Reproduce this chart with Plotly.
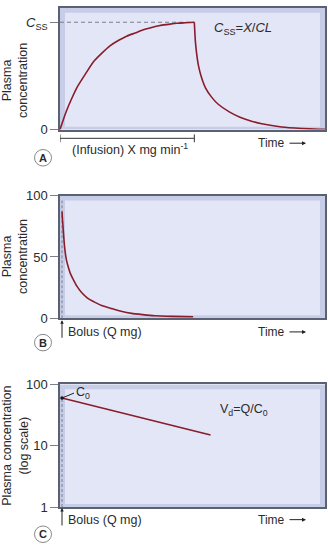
import plotly.graph_objects as go

W, H = 328, 551

# ---- data -------------------------------------------------------------
# Panel A: constant-rate infusion, fraction of steady state
infusion_t = [0.0, 0.12, 0.25, 0.42, 0.62, 0.9, 1.24, 1.55, 1.86, 2.17, 2.48,
              2.8, 3.10, 3.4, 3.72, 4.03, 4.34, 4.67, 5.0]
infusion_c = [0.0, 0.09, 0.18, 0.28, 0.387, 0.50, 0.63, 0.71, 0.78, 0.83, 0.87,
              0.90, 0.93, 0.95, 0.97, 0.98, 0.99, 0.995, 1.0]
washout_t = [5.0, 5.02, 5.04, 5.09, 5.15, 5.25, 5.42, 5.65, 5.89, 6.3, 6.70, 7.1,
             7.51, 8.25, 9.0, 9.61, 9.86]
washout_c = [1.0, 0.90, 0.82, 0.70, 0.60, 0.50, 0.387, 0.30, 0.236, 0.165, 0.115,
             0.08, 0.054, 0.024, 0.010, 0.003, 0.002]
infusion_end = 5.0
css_level = 1.0

# Panel B: single IV bolus, linear scale
bolus_t = [0.0, 0.02, 0.05, 0.08, 0.11, 0.16, 0.23, 0.32, 0.42, 0.56, 0.73, 0.95,
           1.23, 1.5, 1.85, 2.2, 2.59, 3.0, 3.46, 4.1, 4.88]
bolus_c = [87, 80, 71, 62, 55.6, 48, 42, 36, 31.7, 26, 21, 16.5,
           13, 10.2, 7.9, 5.7, 4.0, 3.0, 2.1, 1.6, 1.2]

# Panel C: single IV bolus, log scale
log_t = [0.0, 5.53]
log_c = [60, 15]

# tick labels
ticks_a = [0, css_level]
ticktext_a = ["0", "<i>C</i><sub>SS</sub>"]
ticks_b = [0, 50, 100]
ticks_c = [1, 10, 100]

# ---- style ------------------------------------------------------------
FONT = "Liberation Sans, Arial, sans-serif"
TXT = "#2b2b2b"
CURVE = "#8a1c2c"
BAND = "#c8cde7"
INNER = "#e3e6f6"
FRAME = "#5a6172"
GREY = "#7a7f88"

def py(px):  # pixel row -> paper y
    return 1 - px / H

def pxx(px):  # pixel column -> paper x
    return px / W

# panel boxes (pixel rows): top, bottom
panels = {"A": (1, 126), "B": (194, 320), "C": (388, 514)}
x_dom = [pxx(60), pxx(325)]

fig = go.Figure()

# Panel A traces
fig.add_trace(go.Scatter(x=[0, infusion_end], y=[css_level, css_level], mode="lines",
                         line=dict(color=GREY, width=1, dash="4px,3px"),
                         xaxis="x", yaxis="y", hoverinfo="skip"))
fig.add_trace(go.Scatter(x=infusion_t, y=infusion_c, mode="lines",
                         line=dict(color=CURVE, width=1.6, shape="spline", smoothing=0.5),
                         xaxis="x", yaxis="y"))
fig.add_trace(go.Scatter(x=washout_t, y=washout_c, mode="lines",
                         line=dict(color=CURVE, width=1.6, shape="spline", smoothing=0.5),
                         xaxis="x", yaxis="y"))

# Panel B traces
fig.add_trace(go.Scatter(x=[0, 0], y=[0, 96], mode="lines",
                         line=dict(color=GREY, width=1, dash="3px,2px"),
                         xaxis="x2", yaxis="y2", hoverinfo="skip"))
fig.add_trace(go.Scatter(x=bolus_t, y=bolus_c, mode="lines",
                         line=dict(color=CURVE, width=1.6, shape="spline", smoothing=0.5),
                         xaxis="x2", yaxis="y2"))

# Panel C traces
fig.add_trace(go.Scatter(x=[0, 0], y=[1, log_c[0]], mode="lines",
                         line=dict(color=GREY, width=1, dash="3px,2px"),
                         xaxis="x3", yaxis="y3", hoverinfo="skip"))
fig.add_trace(go.Scatter(x=log_t, y=log_c, mode="lines",
                         line=dict(color=CURVE, width=1.6),
                         xaxis="x3", yaxis="y3"))
fig.add_trace(go.Scatter(x=[log_t[0]], y=[log_c[0]], mode="markers",
                         marker=dict(color="#111", size=3.5),
                         xaxis="x3", yaxis="y3", cliponaxis=False))

px_per_t = (194.33 - 60) / infusion_end
xr_a = [0, (325 - 60) / px_per_t]
xr_bc = [-(62 - 60) / px_per_t, (325 - 62) / px_per_t]
yr_a = [0, (126 - 1) / (126 - 15.67) * css_level]

xcommon = dict(showticklabels=False, ticks="", showgrid=False, zeroline=False,
               showline=True, mirror=True, linecolor=FRAME, linewidth=1.5, domain=x_dom)
ycommon = dict(showgrid=False, zeroline=False, showline=True, mirror=True,
               linecolor=FRAME, linewidth=1.5, ticks="outside", ticklen=8,
               tickcolor=GREY, tickwidth=1,
               tickfont=dict(family=FONT, size=13, color=TXT))

layout = dict(
    width=W, height=H, margin=dict(l=0, r=0, t=0, b=0),
    paper_bgcolor="white", plot_bgcolor=BAND, showlegend=False,
    xaxis=dict(xcommon, range=xr_a, anchor="y"),
    yaxis=dict(ycommon, range=yr_a, tickvals=ticks_a, ticktext=ticktext_a, anchor="x",
               domain=[py(panels["A"][1]), py(panels["A"][0])]),
    xaxis2=dict(xcommon, range=xr_bc, anchor="y2"),
    yaxis2=dict(ycommon, range=[0, 100], tickvals=ticks_b, anchor="x2",
                domain=[py(panels["B"][1]), py(panels["B"][0])]),
    xaxis3=dict(xcommon, range=xr_bc, anchor="y3"),
    yaxis3=dict(ycommon, type="log", range=[0, 2], tickvals=ticks_c,
                ticktext=[str(v) for v in ticks_c], anchor="x3",
                domain=[py(panels["C"][1]), py(panels["C"][0])]),
)
fig.update_layout(**layout)

shapes = []
# lighter inner field inside each frame
for key in ["A", "B", "C"]:
    top, bot = panels[key]
    shapes.append(dict(type="rect", xref="paper", yref="paper", layer="below",
                       x0=pxx(65), x1=pxx(320), y0=py(bot - 3), y1=py(top + 5),
                       fillcolor=INNER, line=dict(width=0)))

# infusion bracket under panel A
br_y = py(135)
shapes.append(dict(type="line", xref="x", yref="paper", x0=0, x1=infusion_end,
                   y0=br_y, y1=br_y, line=dict(color="#333", width=1)))
for xv in (0, infusion_end):
    shapes.append(dict(type="line", xref="x", yref="paper", x0=xv, x1=xv,
                       y0=py(131), y1=py(139), line=dict(color="#333", width=1)))

# circled panel letters
letter_rows = {"A": 155, "B": 345, "C": 542}
for key, row in letter_rows.items():
    r = 8.5
    shapes.append(dict(type="circle", xref="paper", yref="paper",
                       x0=pxx(43 - r), x1=pxx(43 + r), y0=py(row + r), y1=py(row - r),
                       fillcolor="white", line=dict(color="#888", width=1)))
fig.update_layout(shapes=shapes)

ann = []

def text(x, y, s, size=12, xanchor="center", angle=0, **kw):
    ann.append(dict(x=pxx(x), y=py(y), xref="paper", yref="paper", text=s,
                    showarrow=False, xanchor=xanchor, yanchor="middle",
                    textangle=angle, font=dict(family=FONT, size=size, color=TXT), **kw))

# y-axis titles
text(15, 76, "Plasma<br>concentration", size=12.5, angle=-90)
text(15, 257, "Plasma<br>concentration", size=12.5, angle=-90)
text(15, 451, "Plasma concentration<br>(log scale)", size=12.5, angle=-90)

# time labels with arrows
for row in (140, 334, 527):
    text(256, row, "Time", size=12, xanchor="left")
    ann.append(dict(x=pxx(306), y=py(row), xref="paper", yref="paper", ax=-18, ay=0,
                    showarrow=True, arrowhead=2, arrowsize=0.8, arrowwidth=1,
                    arrowcolor="#222", text=""))

# panel A texts
text(70, 146, "(Infusion) X mg min<sup>-1</sup>", size=12.5, xanchor="left")
text(212, 22, "<i>C</i><sub>SS</sub>=<i>X</i>/<i>CL</i>", size=13, xanchor="left")

# bolus arrows and labels
for row in (334, 527):
    ann.append(dict(x=pxx(62), y=py(row - 12), xref="paper", yref="paper", ax=0, ay=19,
                    showarrow=True, arrowhead=2, arrowsize=0.7, arrowwidth=1,
                    arrowcolor="#222", text=""))
    text(66, row, "Bolus (Q mg)", size=12.5, xanchor="left")

# panel C labels
text(218, 414, "V<sub>d</sub>=Q/C<sub>0</sub>", size=12.5, xanchor="left")
ann.append(dict(x=0, y=1.778, xref="x3", yref="y3", ax=12, ay=-5, axref="pixel",
                showarrow=True, arrowhead=0, arrowwidth=1, arrowcolor="#222",
                text="C<sub>0</sub>", xanchor="left", yanchor="middle",
                font=dict(family=FONT, size=12.5, color=TXT)))

# circled letters
for key, row in letter_rows.items():
    text(43, row, "<b>%s</b>" % key, size=11)

fig.update_layout(annotations=ann)

fig.write_html("out.html")
